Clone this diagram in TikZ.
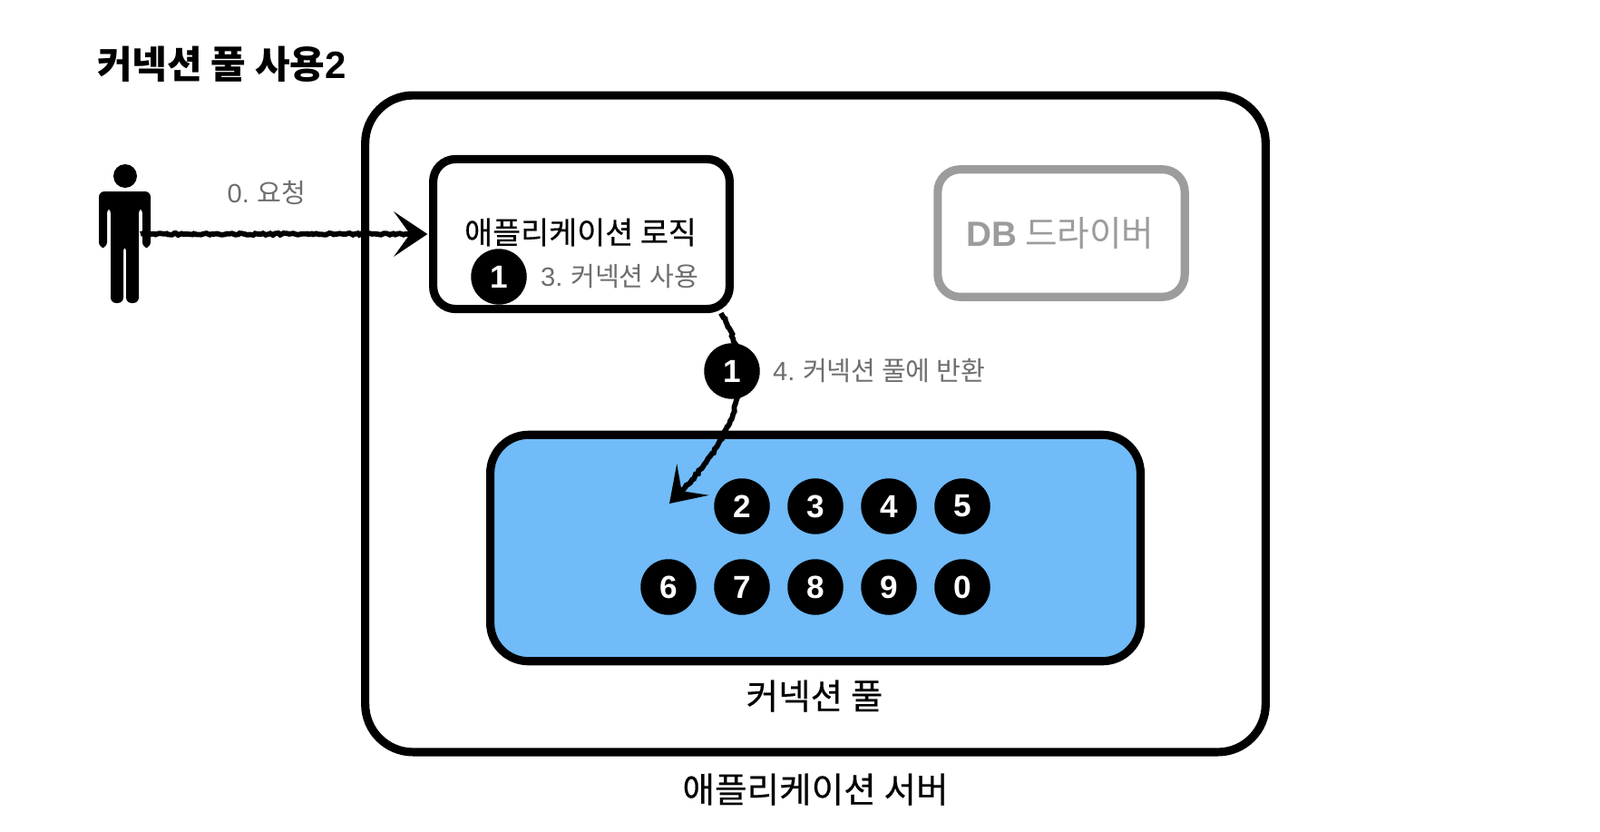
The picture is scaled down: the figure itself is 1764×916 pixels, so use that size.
\documentclass[tikz,border=0pt]{standalone}
\usepackage{xcolor}
\usepackage{fontspec}
\setmainfont{Noto Sans CJK KR}
\newfontfamily\latinfont{Liberation Sans}
\newfontfamily\medfont[FakeBold=0.35]{Noto Sans CJK KR}
\usepackage{tikz}
\usetikzlibrary{arrows.meta, decorations.pathmorphing}
\definecolor{poolblue}{HTML}{70BBF8}
\definecolor{labelgray}{HTML}{6E6E6E}
\definecolor{drivergray}{HTML}{9C9C9C}

\begin{document}
\begin{tikzpicture}[x=0.02cm, y=-0.02cm,
  box/.style={draw=black, line width=5.2pt, rounded corners=14pt, inner sep=0pt},
  conn/.style={circle, fill=black, text=white, minimum size=35pt, inner sep=0pt, font=\fontsize{20}{22}\selectfont\latinfont\bfseries},
  note/.style={text=labelgray, inner sep=0pt, font=\fontsize{16.6}{18}\selectfont},
  caption/.style={text=black, inner sep=0pt, font=\fontsize{22}{24}\selectfont\medfont},
  rough/.style={draw=black, line width=3.3pt, decorate,
    decoration={random steps, segment length=1.6pt, amplitude=0.6pt, post=lineto, post length=14pt},
    -{Stealth[length=21pt, width=28pt, inset=10pt]}}]
\useasboundingbox (0,0) rectangle (1764,916);
\fill[white] (0,0) rectangle (1764,916);
\node[anchor=west, inner sep=0pt, font=\fontsize{23.9}{26}\selectfont\bfseries] (title) at (107,71) {커넥션 풀 사용{\latinfont 2}};
\node[box, minimum width=565pt, minimum height=412pt, rounded corners=30pt] (server) at (899,467) {};
\node[box, minimum width=186pt, minimum height=94pt] (logic) at (641,258) {};
\node[box, draw=drivergray, minimum width=155pt, minimum height=80pt] (driver) at (1170,257) {};
\node[box, fill=poolblue, minimum width=408pt, minimum height=142pt, rounded corners=24pt] (pool) at (899,604) {};
\fill (138,194) circle (13);
\fill[rounded corners=3.5pt] (109,273) -- (109,211) -- (166,211) -- (166,273) -- (157,273) -- (157,229) -- (153,229) -- (153,334) -- (139,334) -- (139,271) -- (136,271) -- (136,334) -- (122,334) -- (122,229) -- (118,229) -- (118,273) -- cycle;
\coordinate (person) at (155,258);
\coordinate (slot) at (738,555);
\node[note] (request) at (294,212) {{\latinfont 0.} 요청};
\node[caption, font=\fontsize{19.2}{22}\selectfont\medfont] (logictext) at (640,256) {애플리케이션 로직};
\node[font=\fontsize{22}{24}\selectfont, text=drivergray, inner sep=0pt] (drivertext) at (1169,257) {{\latinfont\bfseries DB} 드라이버};
\node[note] (usetext) at (683,305) {{\latinfont 3.} 커넥션 사용};
\node[note] (returntext) at (969,409) {{\latinfont 4.} 커넥션 풀에 반환};
\node[caption] (pooltext) at (898,767) {커넥션 풀};
\node[caption] (servertext) at (899,870) {애플리케이션 서버};
\draw[rough] (person) -- ([xshift=-1pt]logic.west);
\coordinate (logicout) at ([xshift=-8pt]logic.south east);
\draw[rough] (logicout) .. controls (840,420) and (805,490) .. (slot);
\node[conn] (used) at (550,305) {1};
\node[conn] (moving) at (807,409) {1};
\node[conn] (c2) at (818,558) {2};
\node[conn] (c3) at (899,558) {3};
\node[conn] (c4) at (980,558) {4};
\node[conn] (c5) at (1061,558) {5};
\node[conn] (c6) at (737,647) {6};
\node[conn] (c7) at (818,647) {7};
\node[conn] (c8) at (899,647) {8};
\node[conn] (c9) at (980,647) {9};
\node[conn] (c0) at (1061,647) {0};
\end{tikzpicture}
\end{document}
